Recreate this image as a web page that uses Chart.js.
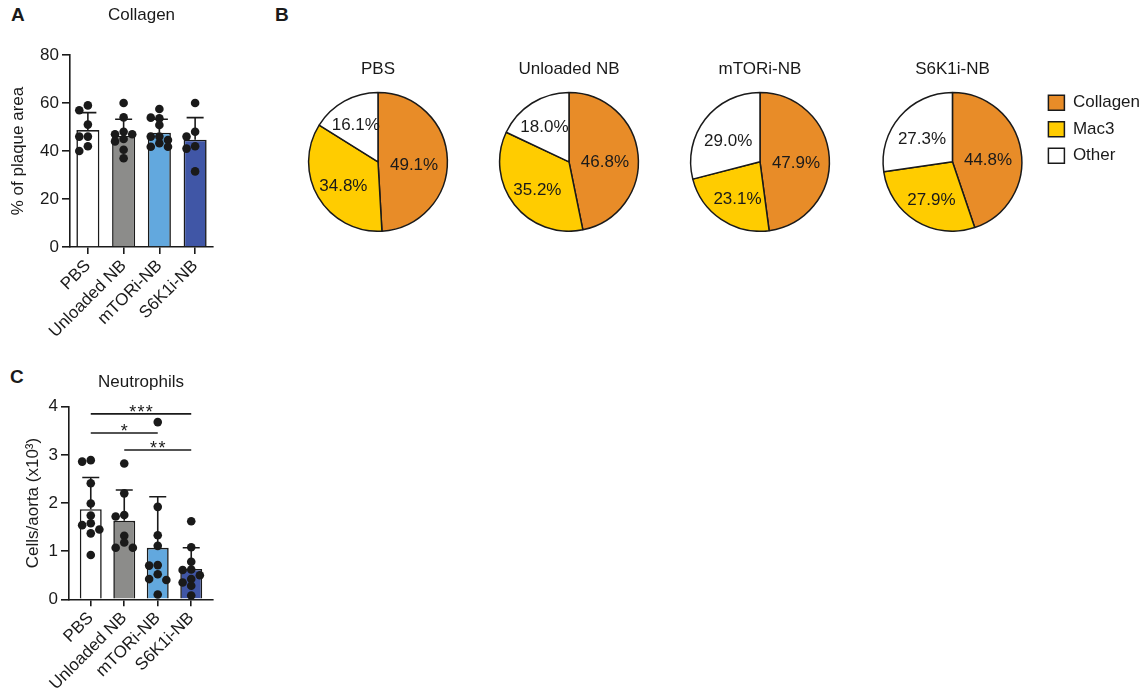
<!DOCTYPE html>
<html>
<head>
<meta charset="utf-8">
<script src="https://cdn.jsdelivr.net/npm/chart.js@4.4.0/dist/chart.umd.min.js"></script>
<style>
  body { margin: 0; background: #fff; }
  #fig { position: relative; width: 1145px; height: 694px; overflow: hidden; font-family: "Liberation Sans", Arial, sans-serif; }
  #fig canvas { position: absolute; }
  .tag { position: absolute; font-weight: bold; font-size: 19px; color: #1a1a1a; }
</style>
</head>
<body>
<div id="fig">
  <div class="tag" style="left:11px;top:4px">A</div>
  <div class="tag" style="left:275px;top:4px">B</div>
  <div class="tag" style="left:10px;top:366px">C</div>
  <canvas id="collagen" width="283" height="360" style="left:0;top:0"></canvas>
  <canvas id="neutro" width="282" height="334" style="left:0;top:360px"></canvas>
  <canvas id="pie0" width="170" height="182" style="left:293px;top:50px"></canvas>
  <canvas id="pie1" width="170" height="182" style="left:484px;top:50px"></canvas>
  <canvas id="pie2" width="170" height="182" style="left:675px;top:50px"></canvas>
  <canvas id="pie3" width="284" height="182" style="left:866px;top:50px"></canvas>
</div>
<script>
const groups = ['PBS', 'Unloaded NB', 'mTORi-NB', 'S6K1i-NB'];

// A: collagen, % of plaque area
const collagenMean = [48.7, 46.3, 47.6, 44.7];
const collagenSD = [7.3, 6.9, 5.6, 9.2];
const collagenPts = [
  [59, 57, 51, 46, 46, 42, 40],
  [60, 54, 48, 47, 47, 45, 44, 40.5, 37],
  [57.5, 53.6, 53.9, 50.8, 46, 46, 44.6, 43.2, 41.8, 41.8],
  [60, 48, 46, 42, 41, 31.5]
];

// C: neutrophils, cells/aorta (x10^3)
const neutroMean = [1.87, 1.63, 1.07, 0.63];
const neutroSD = [0.66, 0.64, 1.06, 0.44];
const neutroPts = [
  [2.89, 2.86, 2.41, 1.99, 1.74, 1.58, 1.54, 1.45, 1.37, 0.92],
  [2.82, 2.2, 1.75, 1.72, 1.32, 1.18, 1.07, 1.07],
  [3.68, 1.92, 1.33, 1.11, 0.71, 0.70, 0.52, 0.42, 0.40, 0.10],
  [1.62, 1.08, 0.78, 0.62, 0.61, 0.50, 0.42, 0.35, 0.28, 0.08]
];
// [from group, to group, level, label]
const neutroSig = [[0, 3, 3.85, '***'], [0, 2, 3.455, '*'], [1, 3, 3.10, '**']];

// B: plaque composition (%)
const pieParts = ['Collagen', 'Mac3', 'Other'];
const pieCollagen = [49.1, 46.8, 47.9, 44.8];
const pieMac3 = [34.8, 35.2, 23.1, 27.9];
const pieOther = [16.1, 18.0, 29.0, 27.3];

const black = '#1a1a1a';
const fontFamily = '"Liberation Sans", Arial, sans-serif';
const font = { family: fontFamily, size: 17 };
const barFill = ['#ffffff', '#8c8c8a', '#62a8de', '#4056a6'];
const pieFill = ['#e88c28', '#ffcc00', '#ffffff'];
const DOT = 8.6;

// spread dots sideways when they would overlap (like a prism scatter)
function swarm(vals, pxPerUnit) {
  const placed = [];
  return vals.map(v => {
    let k = 0;
    for (const s of [0, -1, 1]) {
      k = s;
      const hit = placed.some(p => Math.hypot((p.k - s) * DOT, (p.v - v) * pxPerUnit) < DOT * 0.75);
      if (!hit) break;
    }
    placed.push({ v, k });
    return k;
  });
}

function dots(pts, pxPerUnit, pxPerGroup) {
  const out = [];
  pts.forEach((vals, i) => {
    const off = swarm(vals, pxPerUnit);
    vals.forEach((v, j) => out.push({ x: i + off[j] * DOT / pxPerGroup, y: v }));
  });
  return out;
}

const errorBars = {
  id: 'errorBars',
  afterDatasetDraw(chart, args, opts) {
    if (args.meta.type !== 'bar') return;
    const { ctx, scales: { y } } = chart;
    ctx.save();
    ctx.strokeStyle = black;
    ctx.lineWidth = 1.6;
    args.meta.data.forEach((bar, i) => {
      const top = y.getPixelForValue(opts.mean[i] + opts.sd[i]);
      ctx.beginPath();
      ctx.moveTo(bar.x, bar.y);
      ctx.lineTo(bar.x, top);
      ctx.moveTo(bar.x - 8.5, top);
      ctx.lineTo(bar.x + 8.5, top);
      ctx.stroke();
    });
    ctx.restore();
  }
};

const sigBars = {
  id: 'sigBars',
  afterDraw(chart, args, opts) {
    if (!opts.marks) return;
    const { ctx, scales: { x, y } } = chart;
    ctx.save();
    ctx.strokeStyle = black;
    ctx.fillStyle = black;
    ctx.lineWidth = 1.6;
    ctx.font = '18px ' + fontFamily;
    ctx.textAlign = 'center';
    opts.marks.forEach(([a, b, level, label]) => {
      const py = y.getPixelForValue(level);
      const x1 = x.getPixelForValue(a), x2 = x.getPixelForValue(b);
      ctx.beginPath();
      ctx.moveTo(x1, py);
      ctx.lineTo(x2, py);
      ctx.stroke();
      // stars are set a little apart
      const n = label.length;
      for (let k = 0; k < n; k++) {
        ctx.fillText(label[k], (x1 + x2) / 2 + (k - (n - 1) / 2) * 8.3, py + 3.6);
      }
    });
    ctx.restore();
  }
};

function barChart(id, o) {
  return new Chart(document.getElementById(id), {
    type: 'bar',
    data: {
      datasets: [
        { type: 'scatter', data: o.dots, backgroundColor: black, pointRadius: DOT / 2, borderWidth: 0, order: 0 },
        {
          type: 'bar', data: o.mean.map((m, i) => ({ x: i, y: m })),
          backgroundColor: barFill, borderColor: black, borderWidth: 1.6,
          barPercentage: o.barPct, categoryPercentage: 1, order: 1
        }
      ]
    },
    options: {
      responsive: false,
      animation: false,
      layout: { padding: { left: 0, right: o.padRight, top: 0, bottom: 0 } },
      plugins: {
        legend: { display: false },
        tooltip: { enabled: false },
        title: {
          display: true, text: o.title, color: black, fullSize: false,
          font: { ...font, weight: 'normal' }, padding: o.titlePad
        },
        errorBars: { mean: o.mean, sd: o.sd },
        sigBars: { marks: o.sig }
      },
      scales: {
        x: {
          type: 'linear', min: o.xMin, max: o.xMax, offset: false,
          afterBuildTicks: s => { s.ticks = groups.map((g, i) => ({ value: i })); },
          ticks: { callback: v => groups[v], autoSkip: false, minRotation: 45, maxRotation: 45, color: black, font, padding: 2 },
          grid: { offset: false, drawOnChartArea: false, color: black, lineWidth: 1.6, tickLength: 7 },
          border: { color: black, width: 1.6 },
          afterFit: s => { s.height = o.xAxisH; }
        },
        y: {
          min: 0, max: o.yMax,
          ticks: { stepSize: o.yStep, color: black, font, padding: 3 },
          grid: { drawOnChartArea: false, color: black, lineWidth: 1.6, tickLength: 8 },
          border: { color: black, width: 1.6 },
          title: { display: true, text: o.yTitle, color: black, font: { family: fontFamily, size: 17 }, padding: { top: o.yTitlePad, bottom: 0 } },
          afterFit: s => { s.width = o.yAxisW; }
        }
      }
    },
    plugins: [errorBars, sigBars]
  });
}

barChart('collagen', {
  title: 'Collagen', titlePad: { top: 5, bottom: 29.6 },
  mean: collagenMean, sd: collagenSD, dots: dots(collagenPts, 2.4, 35.75),
  yMax: 80, yStep: 20, yTitle: '% of plaque area', yTitlePad: 7.8,
  xMin: -0.5, xMax: 3.5, barPct: 0.645, padRight: 70, xAxisH: 113, yAxisW: 70
});

barChart('neutro', {
  title: 'Neutrophils', titlePad: { top: 11.8, bottom: 14.5 },
  mean: neutroMean, sd: neutroSD, dots: dots(neutroPts, 48.15, 33.5), sig: neutroSig,
  yMax: 4, yStep: 1, yTitle: 'Cells/aorta (x10³)', yTitlePad: 22.8,
  xMin: -0.65, xMax: 3.65, barPct: 0.655, padRight: 69, xAxisH: 94.7, yAxisW: 69
});

const pieLabels = {
  id: 'pieLabels',
  afterDatasetsDraw(chart) {
    const { ctx } = chart;
    const vals = chart.data.datasets[0].data;
    ctx.save();
    ctx.font = '17px ' + fontFamily;
    ctx.fillStyle = black;
    ctx.textAlign = 'center';
    ctx.textBaseline = 'middle';
    chart.getDatasetMeta(0).data.forEach((arc, i) => {
      const mid = (arc.startAngle + arc.endAngle) / 2;
      const f = vals[i] < 20 ? 0.66 : vals[i] > 40 ? 0.52 : 0.58;
      const r = arc.outerRadius * f;
      ctx.fillText(vals[i].toFixed(1) + '%', arc.x + Math.cos(mid) * r, arc.y + Math.sin(mid) * r + 4);
    });
    ctx.restore();
  }
};

// push the legend down to the top of the pie
const legendOffset = {
  id: 'legendOffset',
  afterLayout(chart, args, opts) {
    if (!chart.legend || !opts.dy) return;
    chart.legend.top += opts.dy;
    chart.legend.bottom += opts.dy;
  }
};

groups.forEach((g, i) => {
  const withLegend = i === groups.length - 1;
  new Chart(document.getElementById('pie' + i), {
    type: 'pie',
    data: {
      labels: pieParts,
      datasets: [{
        data: [pieCollagen[i], pieMac3[i], pieOther[i]],
        backgroundColor: pieFill, borderColor: black, borderWidth: 1.5
      }]
    },
    options: {
      responsive: false,
      animation: false,
      plugins: {
        title: {
          display: true, text: g, color: black, fullSize: false,
          font: { ...font, weight: 'normal' }, padding: { top: 8.8, bottom: 12.5 }
        },
        legend: withLegend ? {
          position: 'right', align: 'start',
          labels: { color: black, font, boxWidth: 16, boxHeight: 15, padding: 9.5 }
        } : { display: false },
        tooltip: { enabled: false },
        legendOffset: { dy: withLegend ? 34.7 : 0 }
      }
    },
    plugins: [pieLabels, legendOffset]
  });
});
</script>
</body>
</html>
